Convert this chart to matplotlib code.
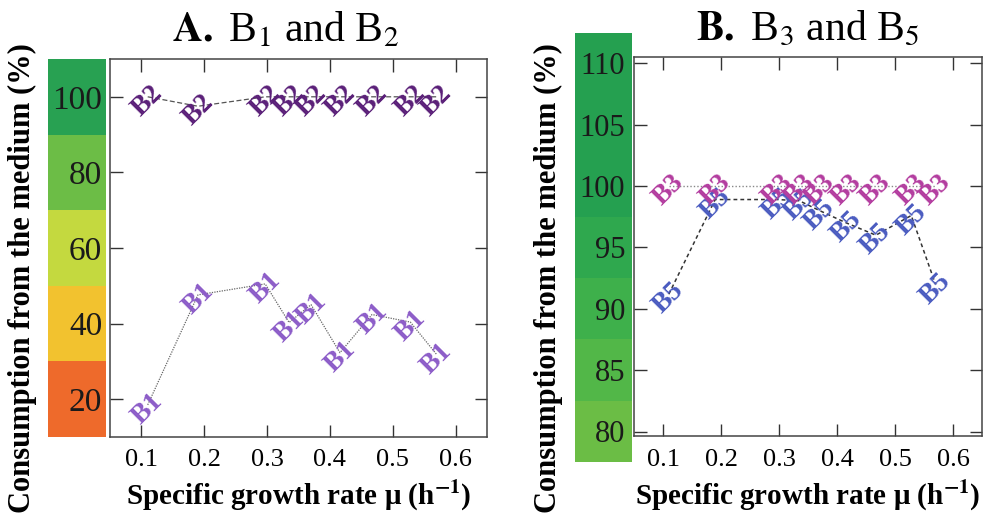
import matplotlib
matplotlib.use("Agg")
import matplotlib.pyplot as plt

plt.rcParams['font.family'] = ['Liberation Serif', 'DejaVu Serif']
plt.rcParams['mathtext.fontset'] = 'stix'

# ---------------- data ----------------
mu = [0.11, 0.19, 0.297, 0.335, 0.37, 0.416, 0.467, 0.528, 0.57]
b1 = [18.5, 47.6, 50.5, 40.3, 45.0, 32.3, 42.4, 40.4, 31.8]
b2 = [100, 97.5, 100, 100, 100, 100, 100, 100, 100]
b3 = [100, 100, 100, 100, 100, 100, 100, 100, 100]
b5 = [91.2, 98.9, 98.9, 98.8, 98.0, 97.0, 96.0, 97.6, 92.0]

xticks = [0.1, 0.2, 0.3, 0.4, 0.5, 0.6]
xticklabels = ['0.1', '0.2', '0.3', '0.4', '0.5', '0.6']
yticks_a = [20, 40, 60, 80, 100]
yticklabels_a = ['20', '40', '60', '80', '100']
yticks_b = [80, 85, 90, 95, 100, 105, 110]
yticklabels_b = ['80', '85', '90', '95', '100', '105', '110']

band_a_edges = [10, 30, 50, 70, 90, 110]
band_a_colors = ['#ee6a2b', '#f2c22f', '#c4d93f', '#6cbd46', '#28a152']
band_b_edges = [77.5, 82.5, 87.5, 92.5, 97.5, 112.5]
band_b_colors = ['#6bbd45', '#52b748', '#3eb04b', '#2fa84e', '#25a050']

titles = [r'$\mathbf{A.}$ B$_1$ and B$_2$', r'$\mathbf{B.}$ B$_3$ and B$_5$']
xlabel = r'Specific growth rate μ (h$^{\mathbf{-1}}$)'
ylabel = 'Consumption from the medium (%)'

W, H = 984, 516
fig = plt.figure(figsize=(W / 100, H / 100), dpi=100)


def px_axes(l, t, r, b):
    return [l / W, 1 - b / H, (r - l) / W, (b - t) / H]


def style_main(ax, ylim, yticks):
    ax.set_xlim(0.05, 0.65)
    ax.set_ylim(*ylim)
    ax.set_xticks(xticks)
    ax.set_xticklabels(xticklabels, fontsize=19)
    ax.set_yticks(yticks)
    ax.set_yticklabels([])
    ax.tick_params(direction='in', length=9, width=1, color='#333333',
                   top=True, right=True, pad=9)
    for s in ax.spines.values():
        s.set_color('#444444')
        s.set_linewidth(1.1)


def band(ax, edges, colors, ylim, yticks, ylabels, pad, size):
    for lo, hi, c in zip(edges[:-1], edges[1:], colors):
        ax.axhspan(lo, hi, color=c, lw=0)
    ax.set_ylim(*ylim)
    ax.set_xlim(0, 1)
    ax.set_xticks([])
    ax.set_yticks(yticks)
    ax.set_yticklabels(ylabels, fontsize=size, color='#1a1a1a')
    ax.tick_params(axis='y', length=0, pad=pad)
    for s in ax.spines.values():
        s.set_visible(False)


def labels(ax, xs, ys, text, color):
    for x, y in zip(xs, ys):
        ax.annotate(text, (x, y), xytext=(0, -3), textcoords='offset points',
                    rotation=45, ha='center', va='center', fontsize=20,
                    fontweight='bold', color=color, zorder=4,
                    rotation_mode='anchor')


# ---------------- panel A ----------------
axa = fig.add_axes(px_axes(110, 59, 487, 437))
style_main(axa, (10, 110), yticks_a)
axa.plot(mu, b2, ls=(0, (4, 2)), color='#555555', lw=0.9, zorder=2)
axa.plot(mu, b1, ls=(0, (1, 1)), color='#666666', lw=0.9, zorder=2)
labels(axa, mu, b2, 'B2', '#5a1f78')
labels(axa, mu, b1, 'B1', '#8c5cc8')

bda = fig.add_axes(px_axes(48, 59, 106, 437))
band(bda, band_a_edges, band_a_colors, (10, 110), yticks_a, yticklabels_a, -39, 24)

# ---------------- panel B ----------------
axb = fig.add_axes(px_axes(634, 57, 982, 436))
style_main(axb, (79.67, 110.49), yticks_b)
axb.plot(mu, b3, ls=(0, (1, 1.5)), color='#888888', lw=1.0, zorder=2)
axb.plot(mu, b5, ls=(0, (2.5, 2)), color='#333333', lw=1.1, zorder=2)
labels(axb, mu, b5, 'B5', '#4a5bc0')
labels(axb, mu, b3, 'B3', '#b33c9f')

bdb = fig.add_axes(px_axes(575, 32.5, 632, 462))
band(bdb, band_b_edges, band_b_colors, (77.5, 112.5), yticks_b, yticklabels_b, -36, 22)

# ---------------- titles & axis labels ----------------
fig.text(285 / W, 1 - 30 / H, titles[0], fontsize=30, ha='center', va='center')
fig.text(808 / W, 1 - 30 / H, titles[1], fontsize=30, ha='center', va='center')
for xc in (299, 808):
    fig.text(xc / W, 1 - 496 / H, xlabel, fontsize=21, fontweight='bold',
             ha='center', va='center')
for xc in (22, 548):
    fig.text(xc / W, 1 - 278 / H, ylabel, fontsize=22, fontweight='bold',
             ha='center', va='center', rotation=90)

fig.savefig('out.png', dpi=100)
